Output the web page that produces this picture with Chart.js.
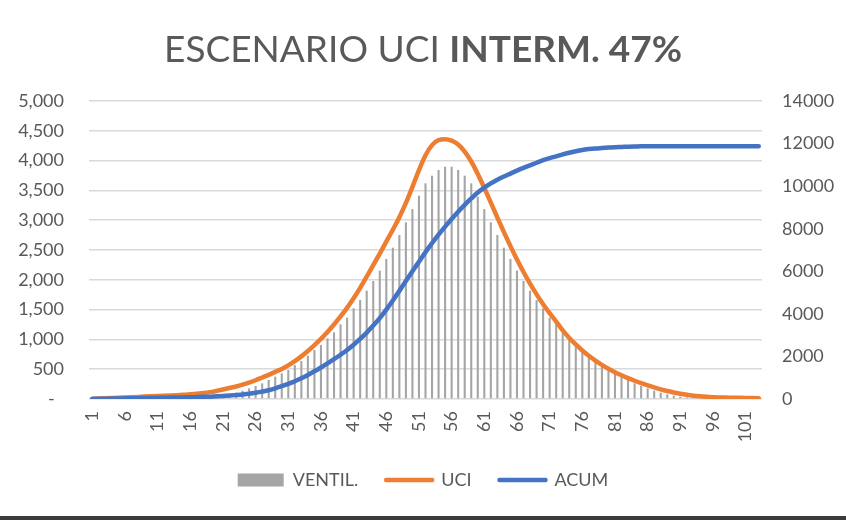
<!DOCTYPE html>
<html>
<head>
<meta charset="utf-8">
<script src="https://cdn.jsdelivr.net/npm/chart.js@4"></script>
<style>
  html, body { margin: 0; padding: 0; background: #fff; }
  #wrap { position: relative; width: 846px; height: 520px; overflow: hidden; }
  #chart { display: block; }
  #title { position: absolute; left: 0; top: 29px; width: 846px; text-align: center;
           font-family: Lato, sans-serif; font-size: 37px; line-height: 37px; color: #595959; white-space: nowrap; }
  #title b { font-weight: 700; }
  #bottomLine { position: absolute; left: 0; top: 516px; width: 846px; height: 4px; background: #3b3b3b; }
</style>
</head>
<body>
<div id="wrap">
  <canvas id="chart" width="846" height="520"></canvas>
  <div id="title">ESCENARIO UCI <b>INTERM. 47%</b></div>
  <div id="bottomLine"></div>
</div>
<script>
// dias 1..103
const days = Array.from({length: 103}, (_, i) => String(i + 1));

const ventil = [
  0, 0, 1, 1, 1, 1, 2, 2, 2, 3,
  3, 4, 4, 5, 7, 10, 14, 20, 28, 40,
  56, 78, 106, 140, 179, 218, 263, 319, 375, 431,
  487, 570, 638, 727, 822, 906, 1018, 1119, 1253, 1364,
  1522, 1661, 1818, 1980, 2153, 2349, 2539, 2752, 2965, 3188,
  3412, 3619, 3747, 3843, 3898, 3898, 3843, 3747, 3619, 3395,
  3188, 2965, 2752, 2539, 2349, 2153, 1980, 1818, 1661, 1522,
  1364, 1253, 1119, 1018, 906, 805, 710, 638, 570, 487,
  431, 375, 319, 263, 218, 179, 140, 106, 78, 56,
  40, 28, 20, 14, 10, 7, 5, 4, 3, 2,
  2, 1, 1
];

const uci = [
  5, 8, 12, 16, 20, 25, 30, 35, 40, 45,
  50, 55, 60, 65, 70, 80, 90, 100, 115, 135,
  160, 185, 210, 240, 275, 315, 360, 405, 455, 505,
  565, 635, 715, 805, 905, 1010, 1125, 1250, 1385, 1530,
  1690, 1865, 2055, 2245, 2440, 2640, 2840, 3050, 3290, 3560,
  3840, 4090, 4260, 4345, 4360, 4335, 4270, 4150, 3985, 3775,
  3540, 3295, 3045, 2800, 2565, 2340, 2130, 1935, 1755, 1590,
  1440, 1300, 1150, 1025, 915, 815, 725, 645, 573, 508,
  450, 398, 350, 306, 266, 228, 194, 162, 134, 110,
  88, 70, 56, 45, 37, 31, 27, 24, 21, 19,
  17, 15, 14
];

const acum = [
  5, 10, 15, 20, 25, 30, 35, 40, 45, 50,
  55, 60, 65, 70, 75, 80, 90, 100, 110, 125,
  140, 160, 185, 212, 245, 290, 345, 410, 500, 600,
  710, 835, 975, 1130, 1300, 1480, 1670, 1870, 2080, 2300,
  2550, 2820, 3120, 3450, 3800, 4200, 4630, 5080, 5540, 6000,
  6450, 6900, 7320, 7720, 8100, 8460, 8800, 9120, 9420, 9700,
  9930, 10130, 10300, 10450, 10590, 10730, 10860, 10980, 11100, 11220,
  11320, 11400, 11490, 11570, 11640, 11700, 11740, 11770, 11790, 11810,
  11830, 11840, 11850, 11860, 11870, 11875, 11875, 11875, 11875, 11875,
  11875, 11875, 11875, 11875, 11875, 11875, 11875, 11875, 11875, 11875,
  11875, 11875, 11875
];

const leftMax = 5000, leftStep = 500;
const rightMax = 14000, rightStep = 2000;

const GRAY = '#a5a5a5', ORANGE = '#ed7d31', BLUE = '#4472c4', TEXT = '#595959';

Chart.defaults.font.family = 'Lato, sans-serif';
Chart.defaults.font.size = 18;
Chart.defaults.color = TEXT;

new Chart(document.getElementById('chart'), {
  type: 'bar',
  data: {
    labels: days,
    datasets: [{
      type: 'bar',
      label: 'VENTIL.',
      data: ventil,
      backgroundColor: GRAY,
      barPercentage: 0.32,
      categoryPercentage: 1,
      yAxisID: 'y',
      order: 3
    }, {
      type: 'line',
      label: 'UCI',
      data: uci,
      borderColor: ORANGE,
      backgroundColor: ORANGE,
      borderWidth: 4.5,
      pointRadius: 0,
      cubicInterpolationMode: 'monotone',
      borderCapStyle: 'round',
      borderJoinStyle: 'round',
      yAxisID: 'y',
      order: 2
    }, {
      type: 'line',
      label: 'ACUM',
      data: acum,
      borderColor: BLUE,
      backgroundColor: BLUE,
      borderWidth: 4.5,
      pointRadius: 0,
      cubicInterpolationMode: 'monotone',
      borderCapStyle: 'round',
      borderJoinStyle: 'round',
      yAxisID: 'y2',
      order: 1
    }]
  },
  options: {
    responsive: false,
    animation: false,
    layout: { padding: { top: 101, bottom: 21, left: 0, right: 0 } },
    plugins: {
      tooltip: { enabled: false },
      legend: {
        position: 'bottom',
        labels: {
          usePointStyle: true,
          pointStyleWidth: 46,
          boxHeight: 13,
          padding: 28,
          color: TEXT,
          font: { size: 18 },
          sort: (a, b) => a.datasetIndex - b.datasetIndex,
          generateLabels(chart) {
            const items = Chart.defaults.plugins.legend.labels.generateLabels(chart);
            items.forEach(it => {
              if (it.datasetIndex === 0) {
                it.pointStyle = 'rect';
                it.lineWidth = 0;
              } else {
                it.pointStyle = 'line';
                it.lineWidth = 4.5;
                it.lineCap = 'round';
              }
            });
            return items;
          }
        }
      }
    },
    scales: {
      x: {
        type: 'category',
        offset: true,
        grid: { display: false, drawTicks: false },
        border: { display: false },
        ticks: {
          autoSkip: false,
          maxRotation: 90,
          minRotation: 90,
          padding: 12,
          callback: function (v, i) { return i % 5 === 0 ? this.getLabelForValue(v) : ''; }
        },
        afterFit: s => { s.height = 44; }
      },
      y: {
        type: 'linear',
        position: 'left',
        min: 0,
        max: leftMax,
        grid: { color: '#d9d9d9', lineWidth: 1.5, drawTicks: false },
        border: { display: false },
        ticks: {
          stepSize: leftStep,
          padding: 25,
          callback: v => v === 0 ? '-  ' : v.toLocaleString('en-US')
        },
        afterFit: s => { s.width = 89; }
      },
      y2: {
        type: 'linear',
        position: 'right',
        min: 0,
        max: rightMax,
        grid: { display: false, drawTicks: false },
        border: { display: false },
        ticks: {
          stepSize: rightStep,
          padding: 20,
          callback: v => String(v)
        },
        afterFit: s => { s.width = 84; }
      }
    }
  }
});
</script>
</body>
</html>
